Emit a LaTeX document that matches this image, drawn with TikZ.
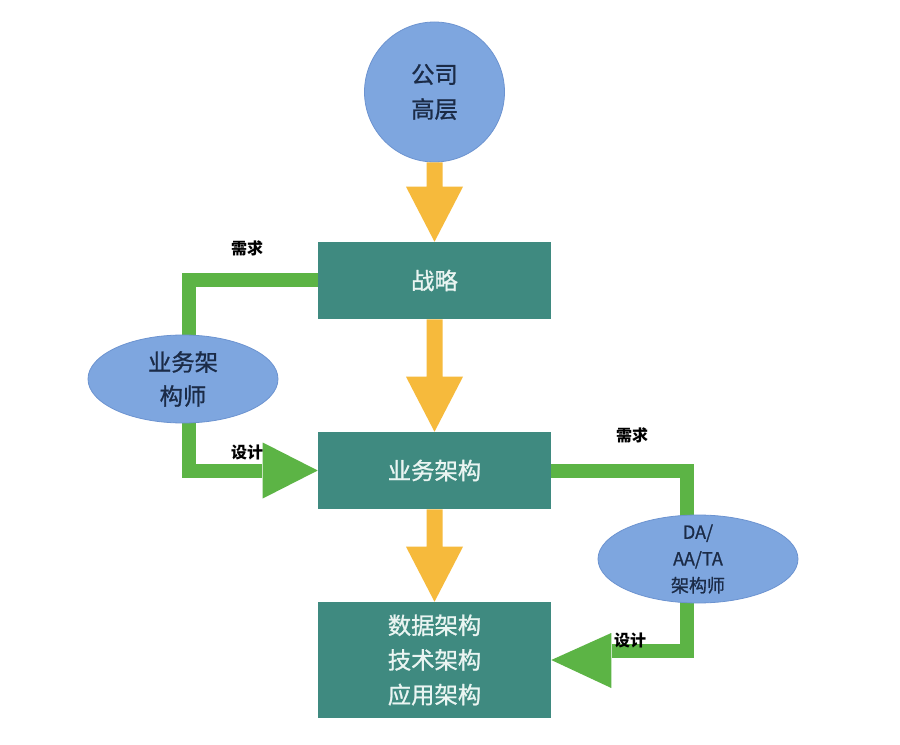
\documentclass[tikz,border=0pt]{standalone}
\usepackage{fontspec}
\setmainfont{Noto Sans CJK SC}
\newfontfamily\medfont{Noto Sans CJK SC}[FakeBold=1]
\usetikzlibrary{calc,shapes.geometric}
\definecolor{teal1}{HTML}{3F8A80}
\definecolor{blue1}{HTML}{7EA6DF}
\definecolor{blue2}{HTML}{6C93D0}
\definecolor{yel}{HTML}{F6BA3C}
\definecolor{grn}{HTML}{5CB445}
\definecolor{navy}{HTML}{1B2B47}
\definecolor{boxtxt}{HTML}{EAF5F2}
\begin{document}
\begin{tikzpicture}[x=0.75pt,y=-0.75pt,
  box/.style={rectangle, fill=teal1, minimum width=174.75pt, minimum height=57.75pt, inner sep=0pt,
    text=boxtxt, font=\medfont\fontsize{17.5}{26}\selectfont, align=center},
  circ/.style={circle, fill=blue1, draw=blue2, line width=0.6pt, minimum size=105pt, inner sep=0pt,
    text=navy, font=\medfont\fontsize{17.5}{26}\selectfont, align=center},
  ell/.style={ellipse, fill=blue1, draw=blue2, line width=0.6pt, inner sep=0pt},
  etext/.style={text=navy, align=center, inner sep=0pt},
  gline/.style={draw=grn, line width=10.5pt, line join=miter},
  lbl/.style={font=\fontsize{12}{14}\selectfont\bfseries, text=black, inner sep=0pt},
]
\useasboundingbox (0,0) rectangle (900,745);
\fill[white] (0,0) rectangle (900,745);

% nodes
\node[circ] (ceo) at (434.5,92) {公司\\高层};
\node[box] (zl) at (434.5,280.5) {战略};
\node[box] (ba) at (434.5,470.5) {业务架构};
\node[box, minimum height=87pt] (br) at (434.5,660) {数据架构\\技术架构\\应用架构};

% coordinates for green connectors
\coordinate (l1) at (189,345);
\coordinate (l2) at (189,412);
\coordinate (l3) at (262,470.5);
\coordinate (r1) at (687,525);
\coordinate (r2) at (687,592);
\coordinate (r3) at (612,651);

% green connectors
\draw[gline] (zl.west) -| (l1);
\draw[gline] (l2) |- (l3);
\fill[grn] ($(ba.west)+(-55,-28)$) -- (ba.west) -- ($(ba.west)+(-55,28)$) -- cycle;
\draw[gline] (ba.east) -| (r1);
\draw[gline] (r2) |- (r3);
\fill[grn] ($(br.east)+(60,-27)$) -- (br.east) -- ($(br.east)+(60,28)$) -- cycle;

% ellipses
\node[ell, minimum width=142.5pt, minimum height=66pt] (bae) at (183,379) {};
\node[etext, font=\medfont\fontsize{17.5}{25.5}\selectfont] (baet) at (bae) {业务架\\构师};
\node[ell, minimum width=150pt, minimum height=66pt] (dae) at (698,559) {};
\node[etext, font=\medfont\fontsize{13.5}{20}\selectfont] (daet) at (dae) {DA/\\AA/TA\\架构师};

% yellow block arrows
\newcommand\yarr[2]{%
  \fill[yel] ($(#1)+(-8,0)$) -- ($(#2)+(-8,-55)$) -- ($(#2)+(-28.5,-55)$) -- (#2)
    -- ($(#2)+(28.5,-55)$) -- ($(#2)+(8,-55)$) -- ($(#1)+(8,0)$) -- cycle;}
\yarr{ceo.south}{zl.north}
\yarr{zl.south}{ba.north}
\yarr{ba.south}{br.north}

% labels
\node[lbl] (n1) at (247,248) {需求};
\node[lbl] (d1) at (247,452) {设计};
\node[lbl] (n2) at (632,435) {需求};
\node[lbl] (d2) at (630,640) {设计};
\end{tikzpicture}
\end{document}
